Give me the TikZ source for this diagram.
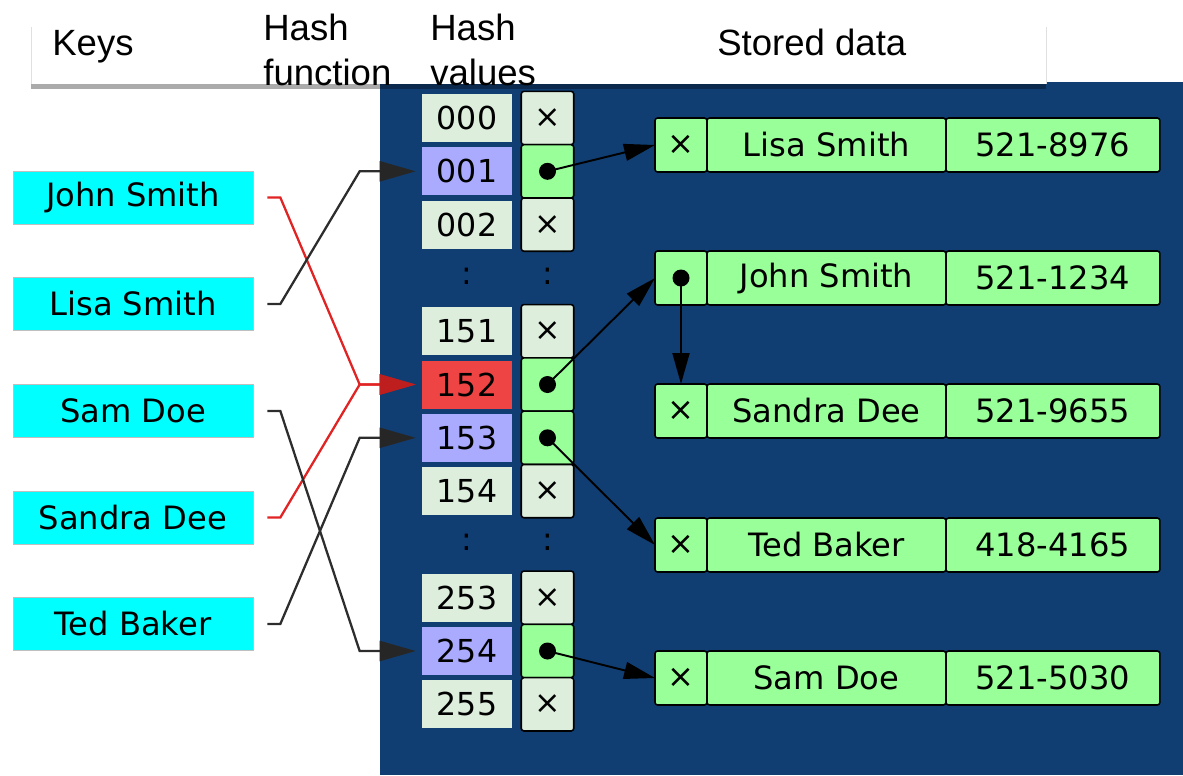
\documentclass[tikz,border=0pt]{standalone}
\usepackage{fontspec}
\setmainfont{DejaVu Sans}
\newfontfamily\hdrfont{Liberation Sans}
\usetikzlibrary{positioning,arrows.meta}

\definecolor{bgblue}{RGB}{16,62,114}
\definecolor{keycyan}{RGB}{0,255,255}
\definecolor{cellgray}{RGB}{221,238,221}
\definecolor{cellblue}{RGB}{170,170,255}
\definecolor{cellred}{RGB}{238,68,68}
\definecolor{cellgreen}{RGB}{153,255,153}
\definecolor{linkred}{RGB}{225,35,35}
\definecolor{linkgray}{RGB}{45,45,45}

\newcommand\cellfont{\fontsize{18.3}{21}\selectfont}
\newcommand\hashfont{\fontsize{18}{21}\selectfont}
\newcommand\hdrtext{\hdrfont\fontsize{20.8}{25.5}\selectfont}

\tikzset{
  keybox/.style={draw=black!25, fill=keycyan, minimum width=4.8cm, minimum height=1.06cm, inner sep=0pt, font=\cellfont},
  hashbox/.style={fill=#1, minimum width=1.8cm, minimum height=0.96cm, inner sep=0pt, font=\hashfont},
  ptrbox/.style={draw=black, line width=0.9pt, fill=#1, rounded corners=1.5pt, minimum width=1.05cm, minimum height=1.066cm, inner sep=0pt, outer sep=0pt, font=\hashfont},
  recbox/.style={draw=black, line width=0.9pt, fill=cellgreen, rounded corners=1.5pt, minimum height=1.08cm, inner sep=0pt, outer sep=0pt, font=\cellfont},
  hdrlabel/.style={inner sep=0pt, font=\hdrtext, align=left},
  link/.style={line width=1.3pt, draw=#1, shorten >=0.12cm, -{Triangle[length=0.72cm,width=0.4cm,color=#1!85!black]}},
  ptr/.style={line width=1.1pt, -{Triangle[length=0.62cm,width=0.34cm]}},
}

\begin{document}
\begin{tikzpicture}[x=0.02cm, y=-0.02cm]
\useasboundingbox (0,0) rectangle (1183,775);

% background and header
\fill[bgblue] (380,82) rectangle (1183,775);
\fill[black, opacity=0.33] (31,84) rectangle (1046,89);
\fill[white] (31,27) rectangle (1046,84);
\draw[black!12] (31,84) -- (31,27) (1046,27) -- (1046,84);

\node[hdrlabel, anchor=base west] (hkeys) at (52,55) {Keys};
\node[hdrlabel, anchor=north west] (hfunc) at (263,14) {Hash\\function};
\node[hdrlabel, anchor=north west] (hvals) at (430,14) {Hash\\values};
\node[hdrlabel, anchor=base west] (hdata) at (717,55) {Stored data};

% keys
\foreach \nm/\y/\name in {john/197.5/John Smith, lisa/304/Lisa Smith, sam/411/Sam Doe, sandra/517.5/Sandra Dee, ted/624/Ted Baker}
  \node[keybox] (k-\nm) at (133,\y) {\name};

% hash values and buckets
\foreach \k/\lab/\col/\sym/\pcol in {0/000/cellgray/×/cellgray, 1/001/cellblue//cellgreen, 2/002/cellgray/×/cellgray,
    4/151/cellgray/×/cellgray, 5/152/cellred//cellgreen, 6/153/cellblue//cellgreen, 7/154/cellgray/×/cellgray,
    9/253/cellgray/×/cellgray, 10/254/cellblue//cellgreen, 11/255/cellgray/×/cellgray}{
  \node[hashbox=\col] (h\lab) at (467,{118+53.3*\k}) {\lab};
  \node[ptrbox=\pcol] (p\lab) at (547.5,{118+53.3*\k}) {\sym};
}
\foreach \k in {3,8}{
  \node[font=\hashfont] (dh\k) at (467,{116+53.3*\k}) {:};
  \node[font=\hashfont] (dp\k) at (547.5,{116+53.3*\k}) {:};
}
\foreach \lab in {001,152,153,254}
  \fill (p\lab) circle (0.17cm);

% stored records
\foreach \nm/\y/\sym/\name/\num in {lisa/145/×/Lisa Smith/521-8976, john/278//John Smith/521-1234,
    sandra/411/×/Sandra Dee/521-9655, ted/545/×/Ted Baker/418-4165, sam/678/×/Sam Doe/521-5030}{
  \node[recbox, minimum width=1.04cm] (\nm-p) at (681,\y) {\sym};
  \node[recbox, minimum width=4.78cm, right=0pt of \nm-p] (\nm-n) {\name};
  \node[recbox, minimum width=4.28cm, right=0pt of \nm-n] (\nm-v) {\num};
}
\fill (john-p) circle (0.17cm);

% hash function
\draw[link=linkred] ([xshift=0.28cm]k-john.east) -- ++(13,0) -- ([xshift=-1.24cm]h152.west) -- (h152.west);
\draw[link=linkred] ([xshift=0.28cm]k-sandra.east) -- ++(13,0) -- ([xshift=-1.24cm]h152.west) -- (h152.west);
\draw[link=linkgray] ([xshift=0.28cm]k-lisa.east) -- ++(13,0) -- ([xshift=-1.24cm]h001.west) -- (h001.west);
\draw[link=linkgray] ([xshift=0.28cm]k-sam.east) -- ++(13,0) -- ([xshift=-1.24cm]h254.west) -- (h254.west);
\draw[link=linkgray] ([xshift=0.28cm]k-ted.east) -- ++(13,0) -- ([xshift=-1.24cm]h153.west) -- (h153.west);

% pointers
\draw[ptr] (p001.center) -- (lisa-p.west);
\draw[ptr] (p152.center) -- (john-p.west);
\draw[ptr] (p153.center) -- (ted-p.west);
\draw[ptr] (p254.center) -- (sam-p.west);
\draw[ptr] (john-p.center) -- (sandra-p.north);
\end{tikzpicture}
\end{document}
